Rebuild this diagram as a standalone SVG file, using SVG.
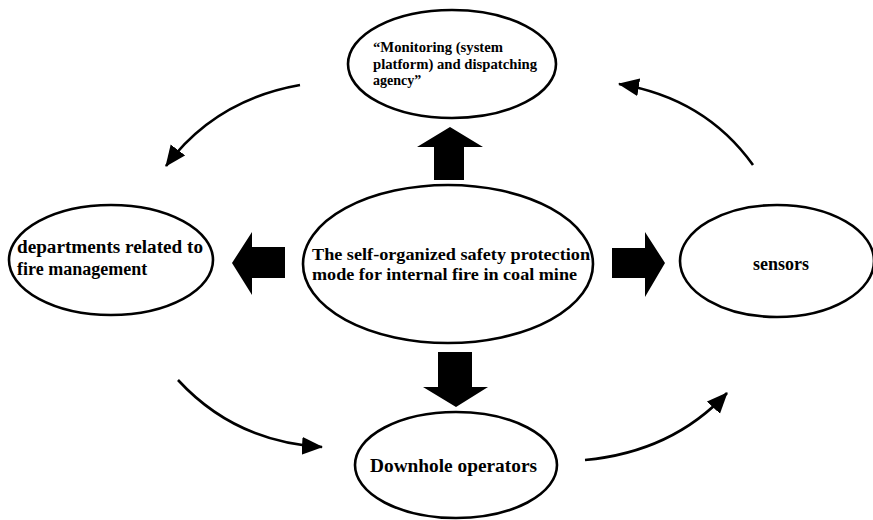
<svg xmlns="http://www.w3.org/2000/svg" width="873" height="520" viewBox="0 0 873 520">
<style>
.node{fill:#fff;stroke:#000;stroke-width:2.6}
text{font-family:"Liberation Serif","DejaVu Serif",serif;font-weight:bold;fill:#000}
.blk{fill:#000;stroke:none}
.cv{fill:none;stroke:#000;stroke-width:2.6}
</style>
<defs>
<marker id="ah" markerUnits="userSpaceOnUse" markerWidth="24" markerHeight="20" refX="20" refY="9" orient="auto" viewBox="0 0 24 20">
<polygon points="0,0 21,9 0,18" fill="#000"/>
</marker>
</defs>
<g id="connectors">
<polygon class="blk" points="450,127 483,147 464,147 464,180 434,180 434,147 417,147"/>
<polygon class="blk" points="456,407 488,387 472,387 472,352 438,352 438,387 423,387"/>
<polygon class="blk" points="232,263 252,232 252,247 285,247 285,278 252,278 252,295"/>
<polygon class="blk" points="665,263 645,232 645,248 612,248 612,278 645,278 645,297"/>
<path class="cv" d="M300,85 Q215,100 166,166" marker-end="url(#ah)"/>
<path class="cv" d="M753,165 Q705,98 619,84" marker-end="url(#ah)"/>
<path class="cv" d="M178,380 Q235,442 322,447" marker-end="url(#ah)"/>
<path class="cv" d="M585,460 Q672,452 727,393" marker-end="url(#ah)"/>
</g>
<g id="center">
<ellipse class="node" cx="448" cy="264" rx="145" ry="79"/>
<text font-family="Liberation Serif, DejaVu Serif, serif" font-size="16" x="312" y="260" textLength="278" lengthAdjust="spacingAndGlyphs">The self-organized safety protection</text>
<text font-family="Liberation Serif, DejaVu Serif, serif" font-size="16" x="312" y="280" textLength="265" lengthAdjust="spacingAndGlyphs">mode for internal fire in coal mine</text>
</g>
<g id="monitoring">
<ellipse class="node" cx="452" cy="64" rx="104" ry="54"/>
<text font-family="Liberation Serif, DejaVu Serif, serif" font-size="14" x="373" y="52" textLength="130" lengthAdjust="spacingAndGlyphs">“Monitoring (system</text>
<text font-family="Liberation Serif, DejaVu Serif, serif" font-size="14" x="373" y="69" textLength="164" lengthAdjust="spacingAndGlyphs">platform) and dispatching</text>
<text font-family="Liberation Serif, DejaVu Serif, serif" font-size="14" x="373" y="85">agency”</text>
</g>
<g id="departments">
<ellipse class="node" cx="111" cy="260" rx="102" ry="55"/>
<text font-family="Liberation Serif, DejaVu Serif, serif" font-size="18" x="17" y="253" textLength="186" lengthAdjust="spacingAndGlyphs">departments related to</text>
<text font-family="Liberation Serif, DejaVu Serif, serif" font-size="18" x="17" y="275">fire management</text>
</g>
<g id="sensors">
<ellipse class="node" cx="777" cy="261" rx="97" ry="56"/>
<text font-family="Liberation Serif, DejaVu Serif, serif" font-size="18" x="781" y="270" text-anchor="middle">sensors</text>
</g>
<g id="downhole">
<ellipse class="node" cx="456" cy="465" rx="101" ry="53"/>
<text font-family="Liberation Serif, DejaVu Serif, serif" font-size="18" x="370" y="472" textLength="167" lengthAdjust="spacingAndGlyphs">Downhole operators</text>
</g>
</svg>
